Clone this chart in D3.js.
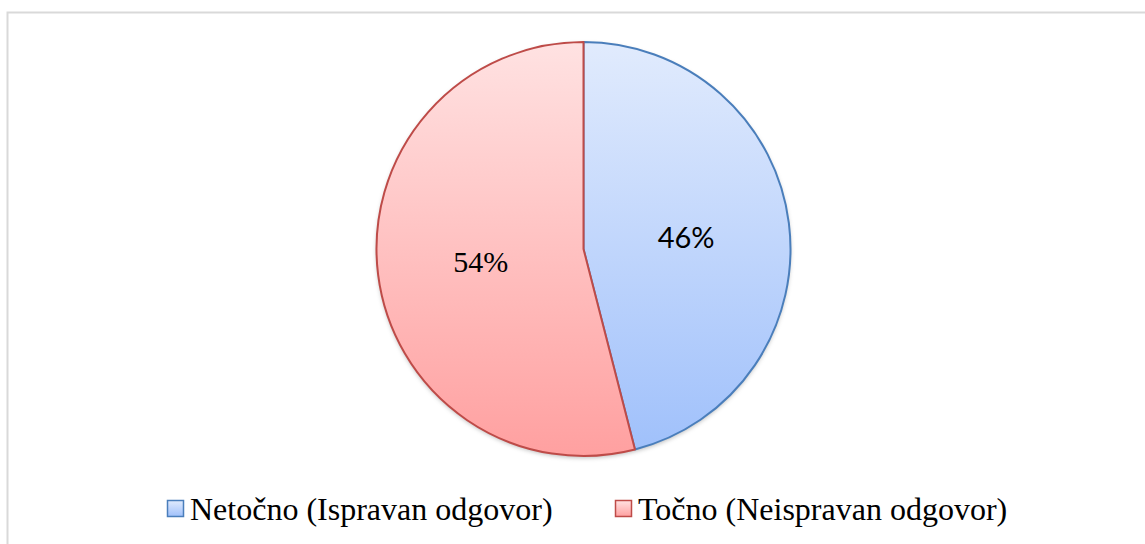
<!DOCTYPE html>
<html>
<head>
<meta charset="utf-8">
<script src="https://cdn.jsdelivr.net/npm/d3@7"></script>
<style>
  body { margin: 0; background: #fff; }
  svg { display: block; }
  text { font-family: "Liberation Serif", "Times New Roman", serif; }
</style>
</head>
<body>
<svg></svg>
<script>
const categories = ['Netočno (Ispravan odgovor)', 'Točno (Neispravan odgovor)']
const values = [46, 54]
const labels = ['46%', '54%']

window.onload = () => {
  const width = 1145
  const height = 544
  const cx = 583.5
  const cy = 249
  const radius = 207

  const fillTop = ['#e1ebfd', '#ffe2e2']
  const fillBottom = ['#9fc0fb', '#ffa0a0']
  const strokes = ['#4a7ebb', '#be4b48']
  // 原图中两个百分比标签字体不同
  const labelFonts = ['Lato, "Open Sans", sans-serif', '"Liberation Serif", "Times New Roman", serif']

  const svg = d3.select('svg')
    .attr('width', width)
    .attr('height', height)
    .attr('viewBox', [0, 0, width, height])

  const defs = svg.append('defs')

  // 切片渐变（坐标相对于饼图中心）
  categories.forEach((c, i) => {
    const g = defs.append('linearGradient')
      .attr('id', 'grad' + i)
      .attr('gradientUnits', 'userSpaceOnUse')
      .attr('x1', 0).attr('y1', -radius)
      .attr('x2', 0).attr('y2', radius)
    g.append('stop').attr('offset', '0%').attr('stop-color', fillTop[i])
    g.append('stop').attr('offset', '100%').attr('stop-color', fillBottom[i])

    const lg = defs.append('linearGradient')
      .attr('id', 'lgrad' + i)
      .attr('x1', 0).attr('y1', 0).attr('x2', 0).attr('y2', 1)
    lg.append('stop').attr('offset', '0%').attr('stop-color', fillTop[i])
    lg.append('stop').attr('offset', '100%').attr('stop-color', fillBottom[i])
  })

  const shadow = defs.append('filter').attr('id', 'shadow')
    .attr('x', '-10%').attr('y', '-10%').attr('width', '120%').attr('height', '120%')
  shadow.append('feDropShadow')
    .attr('dx', 0).attr('dy', 2).attr('stdDeviation', 2)
    .attr('flood-color', '#000').attr('flood-opacity', 0.25)

  // 外框
  svg.append('rect')
    .attr('x', 7.5).attr('y', 12.5)
    .attr('width', width).attr('height', height)
    .attr('fill', 'none')
    .attr('stroke', '#d9d9d9')
    .attr('stroke-width', 2)

  const pie = d3.pie().sort(null).value(d => d)
  const arcs = pie(values)
  const arc = d3.arc().innerRadius(0).outerRadius(radius)
  const labelArc = d3.arc().innerRadius(radius * 0.5).outerRadius(radius * 0.5)

  const g = svg.append('g')
    .attr('transform', 'translate(' + cx + ',' + cy + ')')

  g.append('circle')
    .attr('r', radius)
    .attr('fill', '#fff')
    .attr('filter', 'url(#shadow)')

  g.selectAll('path')
    .data(arcs)
    .join('path')
    .attr('d', arc)
    .attr('fill', (d, i) => 'url(#grad' + i + ')')
    .attr('stroke', (d, i) => strokes[i])
    .attr('stroke-width', 2)
    .attr('stroke-linejoin', 'round')

  g.selectAll('text.pct')
    .data(arcs)
    .join('text')
    .attr('class', 'pct')
    .attr('x', d => labelArc.centroid(d)[0])
    .attr('y', d => labelArc.centroid(d)[1])
    .attr('text-anchor', 'middle')
    .attr('dominant-baseline', 'central')
    .style('font-family', (d, i) => labelFonts[i])
    .attr('font-size', (d, i) => i === 0 ? 29 : 30)
    .attr('fill', '#000')
    .text((d, i) => labels[i])

  // 图例
  const legendX = [167, 615]
  const legend = svg.append('g')
  categories.forEach((c, i) => {
    legend.append('rect')
      .attr('x', legendX[i] + 0.5).attr('y', 500.5)
      .attr('width', 16).attr('height', 16)
      .attr('fill', 'url(#lgrad' + i + ')')
      .attr('stroke', strokes[i])
      .attr('stroke-width', 1.5)
    legend.append('text')
      .attr('x', legendX[i] + 23)
      .attr('y', 520)
      .attr('font-size', 32)
      .attr('fill', '#000')
      .text(c)
  })
}
</script>
</body>
</html>
